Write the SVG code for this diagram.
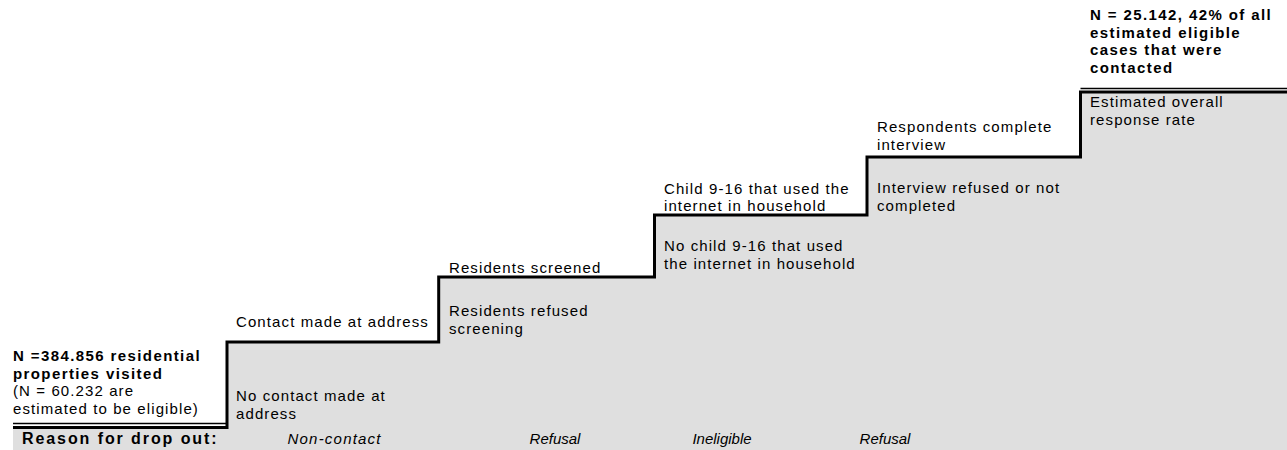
<svg xmlns="http://www.w3.org/2000/svg" width="1287" height="450" viewBox="0 0 1287 450">
<style>
text{font-family:"Liberation Sans",Arial,sans-serif;font-size:15px;fill:#000;letter-spacing:1.1px}
.b{font-weight:bold;letter-spacing:1.4px}
.r{font-size:16px}
.i{font-style:italic;letter-spacing:0;text-anchor:middle}
.fill{fill:#dfdfdf;stroke:none}
.stair{fill:none;stroke:#000;stroke-width:3}
.thin{fill:none;stroke:#000;stroke-width:1.5}
</style>
<rect width="1287" height="450" fill="#fff"/>
<g id="background">
<path class="fill" d="M227,342 H438.7 V277 H654.5 V215 H867 V157 H1080.5 V92 H1287 V450 H227 Z"/>
<rect class="fill" x="13" y="429" width="1274" height="21"/>
</g>
<g id="connectors">
<path class="stair" d="M13,427.5 H227 V342 H438.7 V277 H654.5 V215 H867 V157 H1080.5 V92 H1287"/>
<line class="thin" x1="13" y1="423.5" x2="227" y2="423.5"/>
<line class="thin" x1="1080.5" y1="88.5" x2="1287" y2="88.5"/>
</g>
<g id="start">
<text class="b" x="13" y="361">N =384.856 residential</text>
<text class="b" x="13" y="378.5">properties visited</text>
<text x="13" y="396">(N = 60.232 are</text>
<text x="13" y="414">estimated to be eligible)</text>
</g>
<g id="step1">
<text x="236" y="327">Contact made at address</text>
<text x="236" y="401">No contact made at</text>
<text x="236" y="419">address</text>
</g>
<g id="step2">
<text x="449" y="273">Residents screened</text>
<text x="449" y="316">Residents refused</text>
<text x="449" y="334">screening</text>
</g>
<g id="step3">
<text x="664" y="194">Child 9-16 that used the</text>
<text x="664" y="211">internet in household</text>
<text x="664" y="251">No child 9-16 that used</text>
<text x="664" y="269">the internet in household</text>
</g>
<g id="step4">
<text x="877" y="132">Respondents complete</text>
<text x="877" y="150">interview</text>
<text x="877" y="193">Interview refused or not</text>
<text x="877" y="211">completed</text>
</g>
<g id="step5">
<text x="1090" y="107">Estimated overall</text>
<text x="1090" y="125">response rate</text>
<text class="b" x="1090" y="20">N = 25.142, 42% of all</text>
<text class="b" x="1090" y="37.5">estimated eligible</text>
<text class="b" x="1090" y="55">cases that were</text>
<text class="b" x="1090" y="72.5">contacted</text>
</g>
<g id="reasons">
<text class="b r" x="22" y="444" textLength="196" lengthAdjust="spacing">Reason for drop out:</text>
<text class="i" x="334" y="444" textLength="93" lengthAdjust="spacing">Non-contact</text>
<text class="i" x="555" y="444">Refusal</text>
<text class="i" x="722" y="444">Ineligible</text>
<text class="i" x="885" y="444">Refusal</text>
</g>
</svg>
